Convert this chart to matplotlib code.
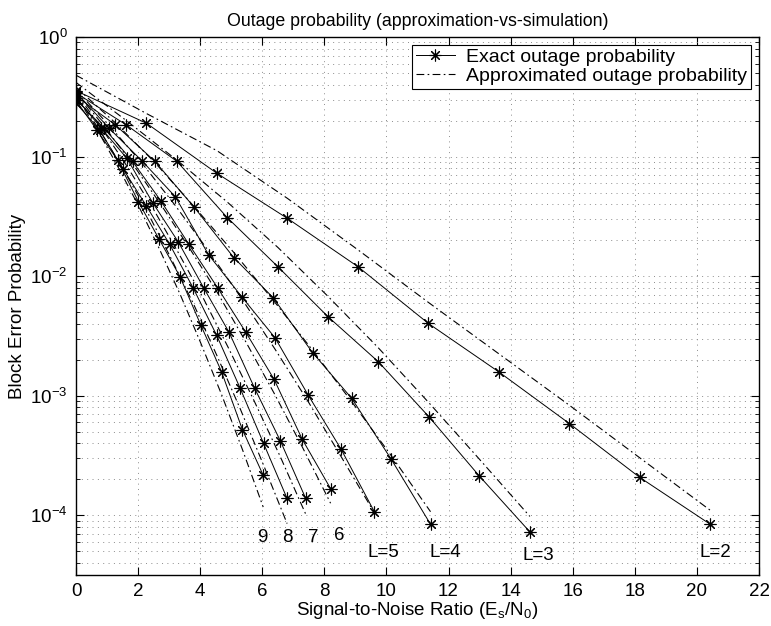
import matplotlib.pyplot as plt
from matplotlib.ticker import LogLocator, NullFormatter
from matplotlib.lines import Line2D

plt.rcParams['font.family'] = ['Liberation Sans', 'DejaVu Sans']
plt.rcParams['mathtext.default'] = 'regular'
plt.rcParams['font.size'] = 13.5

# SNR points (dB) for each diversity order L
snr_L2 = [0, 2.27, 4.54, 6.81, 9.08, 11.35, 13.62, 15.89, 18.16, 20.43]
snr_L3 = [0, 1.62, 3.25, 4.87, 6.50, 8.12, 9.74, 11.37, 12.99, 14.62]
snr_L4 = [0, 1.27, 2.54, 3.81, 5.08, 6.35, 7.62, 8.88, 10.15, 11.42]
snr_L5 = [0, 1.07, 2.14, 3.20, 4.27, 5.34, 6.41, 7.48, 8.54, 9.61]
snr_L6 = [0, 0.91, 1.82, 2.73, 3.64, 4.56, 5.47, 6.38, 7.29, 8.20]
snr_L7 = [0, 0.82, 1.64, 2.47, 3.29, 4.11, 4.93, 5.75, 6.58, 7.40]
snr_L8 = [0, 0.76, 1.51, 2.27, 3.02, 3.78, 4.53, 5.29, 6.04, 6.80]
snr_L9 = [0, 0.67, 1.34, 2.01, 2.68, 3.35, 4.02, 4.69, 5.36, 6.03]

# exact (simulated) outage probability
exact_L2 = [0.355, 0.190, 0.0724, 0.0304, 0.0120, 0.00402, 0.00158, 5.85e-4, 2.07e-4, 8.4e-5]
exact_L3 = [0.34, 0.184, 0.0912, 0.0309, 0.0120, 0.00457, 0.00192, 6.65e-4, 2.13e-4, 7.25e-5]
exact_L4 = [0.32, 0.184, 0.0912, 0.0376, 0.0143, 0.0066, 0.00229, 9.5e-4, 2.95e-4, 8.4e-5]
exact_L5 = [0.345, 0.172, 0.0912, 0.0461, 0.0151, 0.00671, 0.00305, 1.01e-3, 3.56e-4, 1.07e-4]
exact_L6 = [0.30, 0.172, 0.0912, 0.0427, 0.0184, 0.0080, 0.00339, 1.37e-3, 4.3e-4, 1.67e-4]
exact_L7 = [0.31, 0.172, 0.0966, 0.0411, 0.0194, 0.0080, 0.00339, 1.16e-3, 4.2e-4, 1.38e-4]
exact_L8 = [0.28, 0.167, 0.0794, 0.0385, 0.0184, 0.0079, 0.0032, 1.15e-3, 4.0e-4, 1.38e-4]
exact_L9 = [0.295, 0.167, 0.0933, 0.0419, 0.0203, 0.0099, 0.0039, 1.58e-3, 5.2e-4, 2.16e-4]

# approximated outage probability
approx_L2 = [0.479, 0.229, 0.112, 0.0447, 0.0166, 0.00603, 0.00224, 8.32e-4, 3.02e-4, 1.10e-4]
approx_L3 = [0.417, 0.200, 0.0933, 0.0417, 0.0174, 0.00676, 0.00251, 8.71e-4, 2.95e-4, 9.77e-5]
approx_L4 = [0.380, 0.191, 0.0891, 0.0380, 0.0158, 0.00631, 0.00240, 8.91e-4, 3.16e-4, 1.07e-4]
approx_L5 = [0.363, 0.182, 0.0871, 0.0389, 0.0162, 0.00646, 0.00245, 8.91e-4, 3.09e-4, 1.05e-4]
approx_L6 = [0.347, 0.178, 0.0871, 0.0398, 0.0174, 0.00724, 0.00282, 1.05e-3, 3.72e-4, 1.26e-4]
approx_L7 = [0.339, 0.174, 0.0832, 0.0372, 0.0158, 0.00646, 0.00245, 8.91e-4, 3.09e-4, 1.02e-4]
approx_L8 = [0.331, 0.166, 0.0794, 0.0355, 0.0148, 0.00589, 0.00219, 7.76e-4, 2.63e-4, 8.51e-5]
approx_L9 = [0.324, 0.170, 0.0832, 0.0389, 0.0170, 0.00708, 0.00275, 1.02e-3, 3.55e-4, 1.17e-4]

curves = [
    (snr_L2, exact_L2, approx_L2),
    (snr_L3, exact_L3, approx_L3),
    (snr_L4, exact_L4, approx_L4),
    (snr_L5, exact_L5, approx_L5),
    (snr_L6, exact_L6, approx_L6),
    (snr_L7, exact_L7, approx_L7),
    (snr_L8, exact_L8, approx_L8),
    (snr_L9, exact_L9, approx_L9),
]

star = (8, 2, 0)

fig = plt.figure(figsize=(7.71, 6.26), dpi=100)
ax = fig.add_axes([76 / 771, 51 / 626, 683 / 771, 538 / 626])

for snr, ex, ap in curves:
    ax.plot(snr, ap, color='k', ls=(0, (7, 3, 1.5, 3)), lw=0.8)
    ax.plot(snr, ex, color='k', ls='-', lw=0.7, marker=star, ms=8.5, mew=0.8)

ax.set_yscale('log')
ax.set_xlim(0, 22)
ax.set_ylim(10 ** -4.5, 1)
ax.set_xticks(range(0, 23, 2))
ax.yaxis.set_major_locator(LogLocator(base=10, numticks=10))
ax.yaxis.set_minor_locator(LogLocator(base=10, subs=range(2, 10), numticks=10))
ax.yaxis.set_minor_formatter(NullFormatter())

grid_style = dict(ls=(0, (1, 4.5)), color='0.55', lw=0.7)
ax.grid(which='major', **grid_style)
ax.grid(which='minor', axis='y', **grid_style)
ax.tick_params(which='both', direction='in', top=True, right=True)
ax.tick_params(which='major', length=6, pad=6)
ax.tick_params(which='minor', length=3)
for s in ax.spines.values():
    s.set_linewidth(1.0)

# order labels
ax.text(6.0, 10 ** -4.19, '9', ha='center', va='center')
ax.text(6.81, 10 ** -4.19, '8', ha='center', va='center')
ax.text(7.63, 10 ** -4.19, '7', ha='center', va='center')
ax.text(8.47, 10 ** -4.17, '6', ha='center', va='center')
ax.text(9.9, 10 ** -4.31, 'L=5', ha='center', va='center')
ax.text(11.9, 10 ** -4.31, 'L=4', ha='center', va='center')
ax.text(14.9, 10 ** -4.335, 'L=3', ha='center', va='center')
ax.text(20.6, 10 ** -4.31, 'L=2', ha='center', va='center')

ax.set_title('Outage probability (approximation-vs-simulation)', pad=8, fontsize=12.8)
ax.set_xlabel('Signal-to-Noise Ratio (E$_s$/N$_0$)', labelpad=0)
ax.set_ylabel('Block Error Probability', labelpad=3)

handles = [
    Line2D([], [], color='k', ls='-', lw=0.7, marker=star, ms=8.5, mew=0.8),
    Line2D([], [], color='k', ls=(0, (7, 3, 1.5, 3)), lw=0.8),
]
leg = ax.legend(handles, ['Exact outage probability', 'Approximated outage probability'],
                loc='upper right', fancybox=False, edgecolor='k', framealpha=1,
                fontsize=14, borderpad=0.2, labelspacing=0.05, borderaxespad=0.4,
                handlelength=2.0, handletextpad=0.6)
leg.get_frame().set_linewidth(0.8)

fig.savefig('out.png', dpi=100)
